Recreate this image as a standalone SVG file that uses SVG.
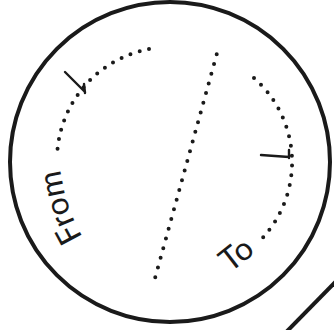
<svg xmlns="http://www.w3.org/2000/svg" width="334" height="330" viewBox="0 0 334 330">
<style>
.ring{fill:none;stroke:#1a1a1a;stroke-width:4}
.dots{fill:none;stroke:#1a1a1a;stroke-width:4;stroke-linecap:round;stroke-dasharray:0 1}
.tick{fill:none;stroke:#1a1a1a;stroke-width:2.4;stroke-linecap:round;stroke-linejoin:round}
.lbl{font-family:Lato,"Liberation Sans",sans-serif;font-size:32px;font-weight:400;fill:#1a1a1a}
</style>
<defs>
<path id="fromPath" d="M83,237 Q60,200 58,140"/>
</defs>
<rect width="334" height="330" fill="#ffffff"/>
<g id="dial">
<circle class="ring" cx="170" cy="162" r="160"/>
</g>
<g id="slash">
<line class="ring" x1="285" y1="333.3" x2="337" y2="280.3"/>
</g>
<g id="connectors">
<path id="from-arc" class="dots" pathLength="16" d="M149,49 A113,113 0 0 0 57,158.2"/>
<path id="to-arc" class="dots" pathLength="18" d="M254,78 A112,112 0 0 1 263.2,237.2"/>
<path id="divider" class="dots" pathLength="24" d="M216.7,54.3 L152.6,286.9"/>
<path id="from-tick" class="tick" d="M65,72 L85,92 M84,84 L85,93"/>
<path id="to-tick" class="tick" d="M261,155 L289,157 M289,150 L289,158"/>
</g>
<g id="from-label">
<text class="lbl"><textPath href="#fromPath">From</textPath></text>
</g>
<g id="to-label">
<text class="lbl" x="230" y="273" transform="rotate(-38 230 273)">To</text>
</g>
</svg>
